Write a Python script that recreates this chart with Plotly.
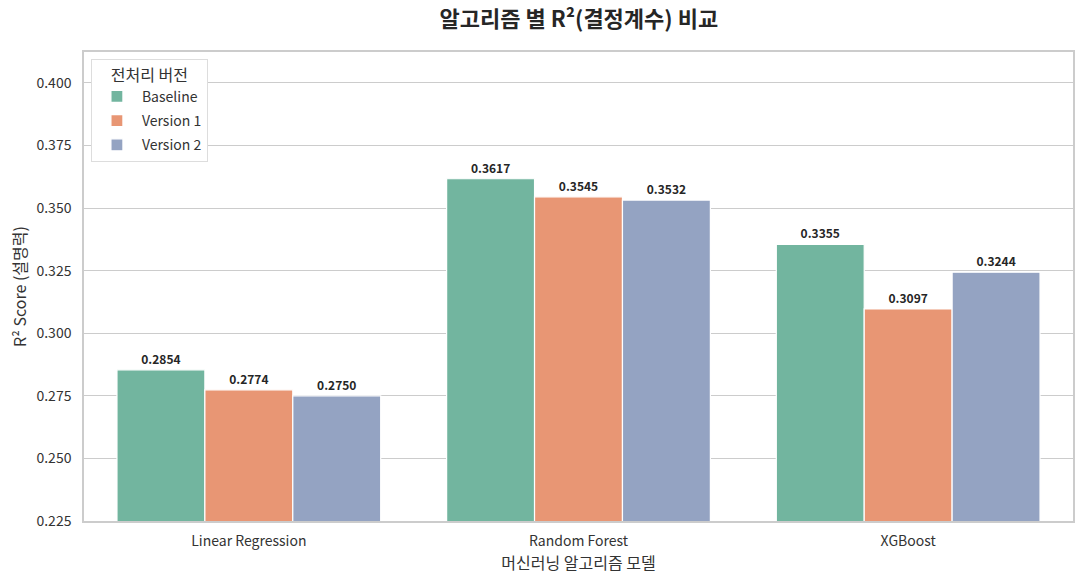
import plotly.graph_objects as go

models = ['Linear Regression', 'Random Forest', 'XGBoost']
versions = ['Baseline', 'Version 1', 'Version 2']
baseline = [0.2854, 0.3617, 0.3355]
version_1 = [0.2774, 0.3545, 0.3097]
version_2 = [0.2750, 0.3532, 0.3244]
colors = ['#72b59f', '#e89674', '#94a3c2']

font_name = 'Noto Sans CJK KR'

fig = go.Figure()
for name, vals, color in zip(versions, [baseline, version_1, version_2], colors):
    fig.add_trace(go.Bar(x=models, y=vals, name=name, legendgroup=name,
                         marker=dict(color=color, line=dict(color='white', width=1.2)),
                         text=[f'{v:.4f}' for v in vals], textposition='outside',
                         textfont=dict(size=12, color='#262626', family=font_name, weight='bold'),
                         cliponaxis=False))

fig.update_layout(
    width=1084, height=583,
    barmode='group', bargap=0.2, bargroupgap=0,
    plot_bgcolor='white', paper_bgcolor='white',
    margin=dict(l=84, r=9, t=52, b=62),
    font=dict(family=font_name, size=14, color='#333333'),
    title=dict(text='<b>알고리즘 별 R²(결정계수) 비교</b>', x=0.534, xanchor='center', y=0.967, yanchor='middle',
               font=dict(size=22, color='#262626')),
    xaxis=dict(title=dict(text='머신러닝 알고리즘 모델', font=dict(size=16), standoff=2),
               showline=True, linecolor='#cccccc', linewidth=1.5, mirror=True, ticks='',
               ticklabelstandoff=6, tickfont=dict(size=14)),
    yaxis=dict(title=dict(text='R² Score (설명력)', font=dict(size=16), standoff=6),
               range=[0.225, 0.3617 * 1.14], dtick=0.025, tickformat='.3f',
               showgrid=True, gridcolor='#cccccc', gridwidth=1,
               showline=True, linecolor='#cccccc', linewidth=1.5, mirror=True,
               ticklabelstandoff=8, tickfont=dict(size=14), zeroline=False),
    legend=dict(title=dict(text='전처리 버전', font=dict(size=16), side='top center'),
                x=0.007, y=0.985, xanchor='left', yanchor='top',
                bgcolor='white', bordercolor='#dddddd', borderwidth=1, font=dict(size=14),
                tracegroupgap=3, itemwidth=40),
)

fig.write_html('out.html', config={'displayModeBar': False}, post_script="document.body.style.margin='0';")
